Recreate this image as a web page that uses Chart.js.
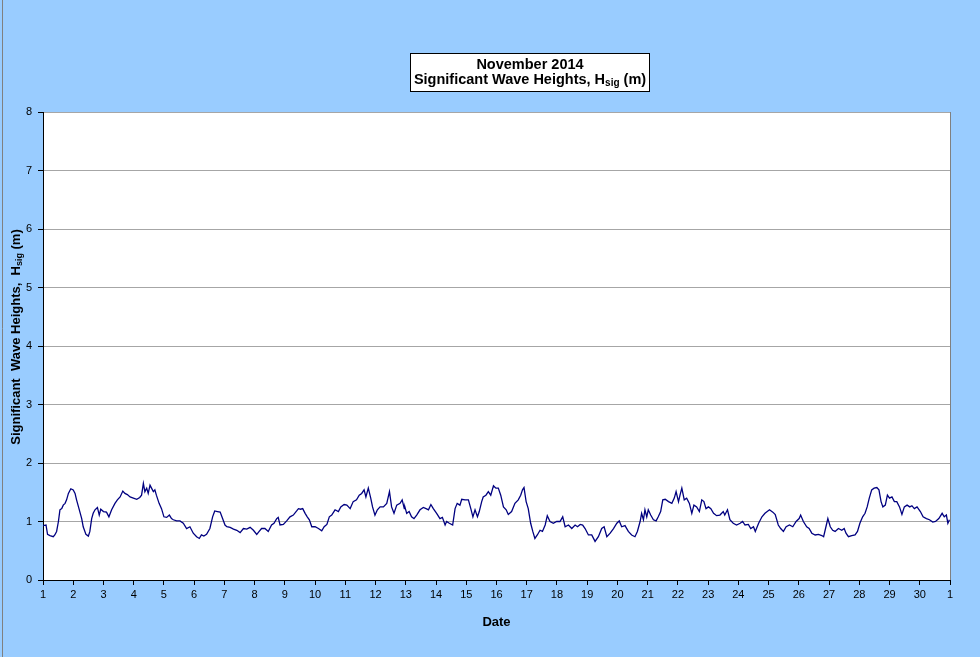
<!DOCTYPE html>
<html lang="en">
<head>
    <meta charset="UTF-8">
    <title>November 2014 Significant Wave Heights</title>
    <script src="https://cdn.jsdelivr.net/npm/chart.js@4/dist/chart.umd.min.js"></script>
    <style>
        body {margin: 0; background: #99ccff;}
        canvas {display: block;}
    </style>
</head>
<body>
    <canvas id="waveChart" width="980" height="657"></canvas>

    <script>
        // day of month (1 = 1 Nov, 31 = 1 Dec) and Hsig in metres
        const days = [
            1.00, 1.10, 1.15, 1.23, 1.34, 1.39, 1.45, 1.51, 1.56, 1.62, 1.67, 1.73, 1.78, 1.84, 1.92,
            2.00, 2.06, 2.11, 2.19, 2.28, 2.33, 2.42, 2.50, 2.55, 2.61, 2.66, 2.72, 2.80, 2.86, 2.91,
            3.00, 3.10, 3.18, 3.27, 3.38, 3.46, 3.55, 3.64, 3.71, 3.79, 3.88, 3.99,
            4.10, 4.20, 4.26, 4.32, 4.37, 4.43, 4.48, 4.54, 4.59, 4.65, 4.70, 4.75, 4.84, 4.92,
            5.00, 5.09, 5.18, 5.25, 5.31, 5.42, 5.53, 5.64, 5.75, 5.86, 5.97,
            6.08, 6.17, 6.24, 6.32, 6.41, 6.52, 6.61, 6.68, 6.77, 6.86, 6.94,
            7.02, 7.08, 7.19, 7.30, 7.41, 7.52, 7.63, 7.74, 7.85, 7.96,
            8.07, 8.15, 8.23, 8.34, 8.45, 8.56, 8.64, 8.73, 8.78, 8.84, 8.95,
            9.06, 9.17, 9.28, 9.39, 9.45, 9.52, 9.59, 9.67, 9.74, 9.81, 9.89,
            10.00, 10.11, 10.22, 10.30, 10.39, 10.47, 10.55, 10.66, 10.77, 10.85, 10.96,
            11.05, 11.16, 11.26, 11.37, 11.46, 11.54, 11.62, 11.68, 11.76, 11.84, 11.90, 11.98,
            12.06, 12.15, 12.26, 12.37, 12.46, 12.53, 12.61, 12.70, 12.81, 12.88, 12.95, 12.97,
            13.03, 13.11, 13.19, 13.27, 13.36, 13.47, 13.58, 13.67, 13.75, 13.83, 13.91,
            14.02, 14.13, 14.21, 14.30, 14.35, 14.44, 14.55, 14.63, 14.70, 14.79, 14.85, 14.96,
            15.07, 15.15, 15.22, 15.29, 15.37, 15.43, 15.51, 15.56, 15.65, 15.73, 15.81, 15.90, 15.98,
            16.06, 16.14, 16.23, 16.32, 16.39, 16.50, 16.61, 16.72, 16.80, 16.86, 16.91, 16.98,
            17.05, 17.13, 17.20, 17.27, 17.35, 17.44, 17.52, 17.61, 17.68, 17.77, 17.88, 17.99,
            18.10, 18.19, 18.27, 18.38, 18.49, 18.60, 18.68, 18.77, 18.85, 18.93,
            19.04, 19.15, 19.26, 19.37, 19.48, 19.56, 19.65, 19.76, 19.87, 19.98,
            20.06, 20.14, 20.25, 20.36, 20.47, 20.58, 20.66, 20.75, 20.80, 20.86, 20.91, 20.97,
            21.02, 21.10, 21.19, 21.28, 21.35, 21.43, 21.50, 21.58, 21.69, 21.80, 21.88, 21.94,
            22.02, 22.07, 22.13, 22.21, 22.29, 22.38, 22.46, 22.53, 22.62, 22.71, 22.79, 22.86, 22.93,
            23.01, 23.09, 23.18, 23.28, 23.39, 23.50, 23.55, 23.64, 23.72, 23.83, 23.94,
            24.06, 24.14, 24.22, 24.33, 24.41, 24.50, 24.56, 24.67, 24.78, 24.88,
            25.03, 25.14, 25.22, 25.32, 25.40, 25.49, 25.58, 25.69, 25.80, 25.91,
            26.01, 26.06, 26.15, 26.26, 26.34, 26.43, 26.54, 26.65, 26.76, 26.82, 26.91, 26.96,
            27.04, 27.12, 27.20, 27.31, 27.42, 27.50, 27.56, 27.64, 27.75, 27.86, 27.94,
            28.02, 28.11, 28.19, 28.26, 28.33, 28.41, 28.49, 28.58, 28.65, 28.72, 28.78, 28.86, 28.93,
            29.00, 29.08, 29.16, 29.24, 29.33, 29.41, 29.49, 29.58, 29.67, 29.74, 29.82, 29.91,
            30.02, 30.11, 30.22, 30.32, 30.43, 30.52, 30.63, 30.74, 30.81, 30.88, 30.93, 30.98
        ];
        const hsig = [
            0.93, 0.94, 0.78, 0.76, 0.74, 0.77, 0.83, 1.00, 1.20, 1.22, 1.28, 1.31, 1.37, 1.48, 1.56,
            1.54, 1.48, 1.37, 1.22, 1.05, 0.91, 0.78, 0.75, 0.83, 1.05, 1.14, 1.20, 1.24, 1.11, 1.21,
            1.17, 1.16, 1.08, 1.20, 1.31, 1.37, 1.42, 1.52, 1.48, 1.46, 1.42, 1.40,
            1.38, 1.41, 1.45, 1.65, 1.51, 1.57, 1.48, 1.62, 1.57, 1.51, 1.54, 1.45, 1.31, 1.22,
            1.08, 1.07, 1.11, 1.05, 1.03, 1.01, 1.01, 0.97, 0.88, 0.91, 0.80,
            0.74, 0.71, 0.77, 0.75, 0.78, 0.88, 1.08, 1.18, 1.17, 1.16, 1.05,
            0.94, 0.91, 0.90, 0.87, 0.85, 0.81, 0.88, 0.87, 0.90, 0.85,
            0.78, 0.83, 0.88, 0.88, 0.83, 0.94, 0.97, 1.05, 1.07, 0.94, 0.95,
            1.01, 1.08, 1.11, 1.18, 1.22, 1.21, 1.22, 1.14, 1.08, 1.03, 0.91,
            0.91, 0.88, 0.84, 0.91, 0.95, 1.08, 1.11, 1.20, 1.17, 1.25, 1.29,
            1.28, 1.22, 1.34, 1.37, 1.45, 1.48, 1.54, 1.42, 1.57, 1.40, 1.25, 1.11,
            1.20, 1.25, 1.25, 1.31, 1.51, 1.25, 1.14, 1.28, 1.31, 1.37, 1.22, 1.25,
            1.14, 1.17, 1.08, 1.05, 1.11, 1.20, 1.24, 1.22, 1.20, 1.29, 1.22,
            1.14, 1.05, 1.07, 0.94, 1.00, 0.97, 0.94, 1.22, 1.31, 1.28, 1.38, 1.37,
            1.37, 1.22, 1.08, 1.20, 1.08, 1.17, 1.34, 1.42, 1.45, 1.51, 1.45, 1.61, 1.57,
            1.57, 1.45, 1.25, 1.20, 1.12, 1.17, 1.31, 1.37, 1.45, 1.54, 1.58, 1.34,
            1.22, 0.97, 0.83, 0.71, 0.77, 0.85, 0.83, 0.94, 1.10, 1.00, 0.97, 1.00,
            1.00, 1.08, 0.91, 0.94, 0.88, 0.94, 0.91, 0.95, 0.94, 0.88,
            0.77, 0.77, 0.66, 0.74, 0.88, 0.91, 0.74, 0.80, 0.88, 0.97,
            1.01, 0.91, 0.93, 0.83, 0.77, 0.74, 0.83, 1.00, 1.14, 1.03, 1.20, 1.08,
            1.20, 1.11, 1.03, 1.01, 1.08, 1.17, 1.37, 1.38, 1.34, 1.31, 1.40, 1.51,
            1.34, 1.45, 1.57, 1.37, 1.40, 1.31, 1.14, 1.28, 1.25, 1.17, 1.37, 1.34, 1.22,
            1.25, 1.22, 1.14, 1.10, 1.11, 1.17, 1.11, 1.20, 1.03, 0.97, 0.94,
            0.97, 1.00, 0.94, 0.95, 0.88, 0.91, 0.83, 0.97, 1.08, 1.14,
            1.20, 1.16, 1.12, 0.94, 0.88, 0.83, 0.91, 0.94, 0.91, 1.00,
            1.05, 1.11, 1.00, 0.91, 0.88, 0.80, 0.77, 0.78, 0.76, 0.74, 0.94, 1.05,
            0.91, 0.85, 0.83, 0.88, 0.85, 0.88, 0.80, 0.74, 0.76, 0.77, 0.83,
            0.97, 1.08, 1.14, 1.25, 1.40, 1.54, 1.57, 1.58, 1.54, 1.34, 1.25, 1.28, 1.45,
            1.40, 1.42, 1.34, 1.34, 1.25, 1.12, 1.25, 1.28, 1.25, 1.27, 1.22, 1.25,
            1.17, 1.08, 1.05, 1.03, 0.99, 1.00, 1.05, 1.14, 1.08, 1.11, 0.97, 1.03
        ];
        const yTicks = [0, 1, 2, 3, 4, 5, 6, 7, 8];
        const titleLines = ["November 2014", "Significant Wave Heights, H"];

        const FONT = "'Liberation Sans', Arial, sans-serif";

        // text with a "sig" subscript, drawn centred on x
        function drawSubText(ctx, before, sub, after, x, y, size) {
            const main = "bold " + size + "px " + FONT;
            const small = "bold " + Math.round(size * 0.68) + "px " + FONT;
            ctx.font = main;
            const w1 = ctx.measureText(before).width;
            const w3 = ctx.measureText(after).width;
            ctx.font = small;
            const w2 = ctx.measureText(sub).width;
            let cx = x - (w1 + w2 + w3) / 2;
            ctx.textAlign = "left";
            ctx.font = main;
            ctx.fillText(before, cx, y);
            cx += w1;
            ctx.font = small;
            ctx.fillText(sub, cx, y + 3.5);
            cx += w2;
            ctx.font = main;
            ctx.fillText(after, cx, y);
        }

        const decorPlugin = {
            id: "decor",
            beforeDraw(chart) {
                const {ctx, chartArea: a} = chart;
                ctx.save();
                ctx.fillStyle = "#99ccff";
                ctx.fillRect(0, 0, chart.width, chart.height);
                ctx.fillStyle = "#ffffff";
                ctx.fillRect(a.left, a.top, a.right - a.left, a.bottom - a.top);
                ctx.strokeStyle = "#808080";
                ctx.lineWidth = 1;
                ctx.beginPath();
                ctx.moveTo(2.5, 0);
                ctx.lineTo(2.5, chart.height);
                ctx.stroke();
                ctx.restore();
            },
            afterDraw(chart) {
                const {ctx, chartArea: a} = chart;
                ctx.save();
                // plot area right edge
                ctx.strokeStyle = "#808080";
                ctx.lineWidth = 1;
                ctx.beginPath();
                ctx.moveTo(Math.round(a.right) + 0.5, a.top);
                ctx.lineTo(Math.round(a.right) + 0.5, a.bottom);
                ctx.stroke();

                // title box
                ctx.fillStyle = "#ffffff";
                ctx.fillRect(410, 53, 240, 39);
                ctx.strokeStyle = "#000000";
                ctx.strokeRect(410.5, 53.5, 239, 38);
                ctx.fillStyle = "#000000";
                ctx.textBaseline = "middle";
                ctx.textAlign = "center";
                ctx.font = "bold 14.5px " + FONT;
                ctx.fillText(titleLines[0], 530, 65);
                drawSubText(ctx, titleLines[1], "sig", " (m)", 530, 80, 14.5);

                // y axis title
                ctx.translate(16, 337);
                ctx.rotate(-Math.PI / 2);
                drawSubText(ctx, "Significant  Wave Heights,  H", "sig", " (m)", 0, 0, 13);
                ctx.restore();
            }
        };

        const waveChart = new Chart(document.getElementById("waveChart"), {
            type: "line",
            data: {
                datasets: [{
                    data: days.map((d, i) => ({x: d, y: hsig[i]})),
                    borderColor: "#000080",
                    borderWidth: 1.3,
                    pointRadius: 0,
                    tension: 0,
                    fill: false
                }]
            },
            options: {
                responsive: false,
                animation: false,
                layout: {padding: {top: 112, right: 30, left: 0, bottom: 0}},
                plugins: {
                    legend: {display: false},
                    tooltip: {enabled: false}
                },
                scales: {
                    x: {
                        type: "linear",
                        min: 1,
                        max: 31,
                        afterFit: s => { s.height = 77; },
                        afterBuildTicks: s => { s.ticks = Array.from({length: 31}, (_, i) => ({value: i + 1})); },
                        ticks: {
                            autoSkip: false,
                            maxRotation: 0,
                            padding: 3,
                            color: "#000000",
                            font: {family: FONT, size: 11},
                            callback: v => (v > 30 ? v - 30 : v)
                        },
                        grid: {drawOnChartArea: false, tickLength: 5, color: "#000000"},
                        border: {color: "#000000", width: 1},
                        title: {
                            display: true,
                            text: "Date",
                            color: "#000000",
                            font: {family: FONT, size: 13, weight: "bold"},
                            padding: {top: 12, bottom: 27}
                        }
                    },
                    y: {
                        min: 0,
                        max: 8,
                        afterFit: s => { s.width = 43; },
                        afterBuildTicks: s => { s.ticks = yTicks.map(v => ({value: v})); },
                        ticks: {
                            padding: 6,
                            color: "#000000",
                            font: {family: FONT, size: 11}
                        },
                        grid: {color: "#a6a6a6", tickColor: "#000000", tickLength: 5},
                        border: {color: "#000000", width: 1}
                    }
                }
            },
            plugins: [decorPlugin]
        });
    </script>
</body>
</html>
